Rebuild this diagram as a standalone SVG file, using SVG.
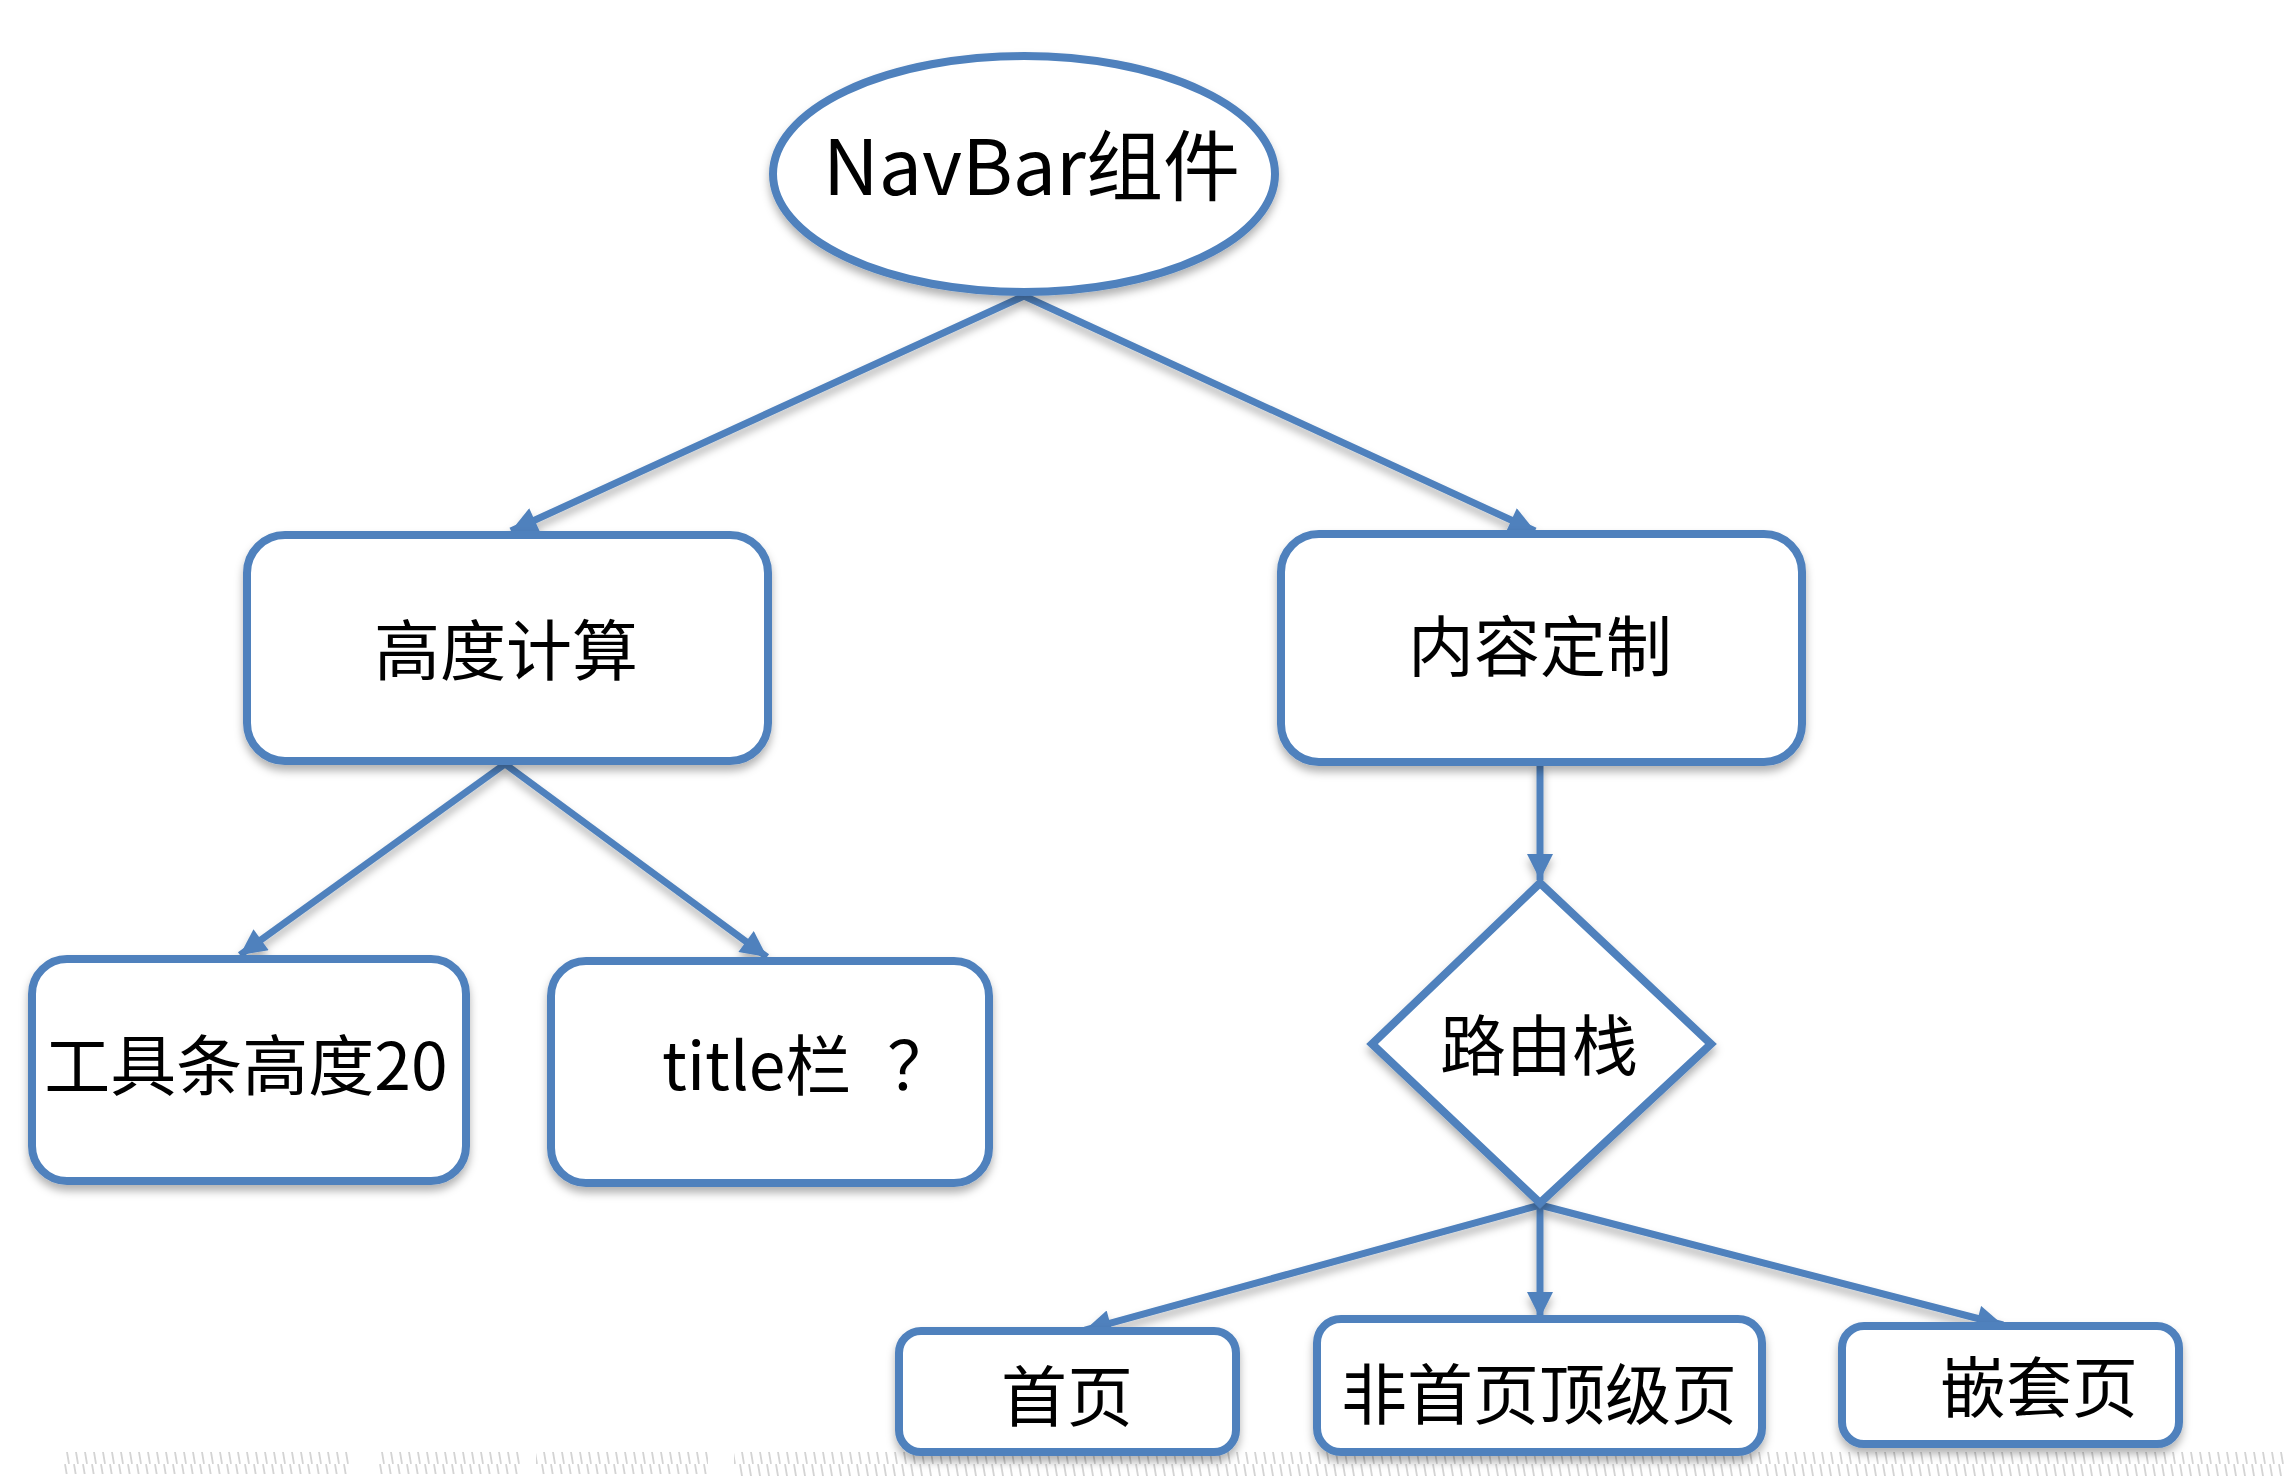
<svg xmlns="http://www.w3.org/2000/svg" width="2284" height="1476" viewBox="0 0 2284 1476">
<style>
.shape{fill:#ffffff;stroke:#4F81BD;stroke-width:8}
.conn{stroke:#4F81BD;stroke-width:7;fill:none}
.lbl{font-family:"Noto Sans CJK SC","Microsoft YaHei",sans-serif;font-size:66px;fill:#000}
</style>
<defs>
<filter id="sh" filterUnits="userSpaceOnUse" x="0" y="0" width="2284" height="1476">
<feDropShadow dx="0" dy="6" stdDeviation="4" flood-color="#000" flood-opacity="0.3"/>
</filter>
<marker id="arr" markerUnits="userSpaceOnUse" viewBox="0 0 10 10" refX="10" refY="5" markerWidth="28" markerHeight="26" orient="auto">
<path d="M0,0 L10,5 L0,10 z" fill="#4F81BD"/>
</marker>
<pattern id="hatch" patternUnits="userSpaceOnUse" width="9" height="24">
<line x1="2" y1="0" x2="6" y2="24" stroke="#d4d4d4" stroke-width="1.8"/>
</pattern>
</defs>
<rect width="2284" height="1476" fill="#ffffff"/>
<g id="background-texture">
<rect x="61" y="1452" width="291" height="22" fill="url(#hatch)"/>
<rect x="379" y="1452" width="141" height="22" fill="url(#hatch)"/>
<rect x="536" y="1452" width="172" height="22" fill="url(#hatch)"/>
<rect x="734" y="1452" width="1550" height="24" fill="url(#hatch)"/>
</g>
<g id="connectors" filter="url(#sh)">
<line class="conn" x1="1024" y1="296" x2="511" y2="531" marker-end="url(#arr)"/>
<line class="conn" x1="1024" y1="296" x2="1535" y2="531" marker-end="url(#arr)"/>
<line class="conn" x1="505" y1="764" x2="240" y2="955" marker-end="url(#arr)"/>
<line class="conn" x1="505" y1="764" x2="767" y2="957" marker-end="url(#arr)"/>
<line class="conn" x1="1540" y1="764" x2="1540" y2="880" marker-end="url(#arr)"/>
<line class="conn" x1="1540" y1="1205" x2="1085" y2="1330" marker-end="url(#arr)"/>
<line class="conn" x1="1540" y1="1205" x2="1540" y2="1318" marker-end="url(#arr)"/>
<line class="conn" x1="1540" y1="1205" x2="2003" y2="1325" marker-end="url(#arr)"/>
</g>
<g id="node-navbar">
<ellipse class="shape" filter="url(#sh)" cx="1024" cy="174" rx="251" ry="118"/>
<text class="lbl" x="823" y="195" style="font-size:77px">NavBar组件</text>
</g>
<g id="node-height">
<rect class="shape" filter="url(#sh)" x="247" y="535" width="521" height="226" rx="38"/>
<text class="lbl" x="506" y="675" text-anchor="middle">高度计算</text>
</g>
<g id="node-content">
<rect class="shape" filter="url(#sh)" x="1281" y="534" width="521" height="228" rx="38"/>
<text class="lbl" x="1540" y="671" text-anchor="middle">内容定制</text>
</g>
<g id="node-toolbar">
<rect class="shape" filter="url(#sh)" x="32" y="959" width="434" height="222" rx="35"/>
<text class="lbl" x="246" y="1090" text-anchor="middle">工具条高度20</text>
</g>
<g id="node-title">
<rect class="shape" filter="url(#sh)" x="551" y="961" width="438" height="222" rx="35"/>
<text class="lbl" x="662" y="1090">title栏<tspan dx="36">？</tspan></text>
</g>
<g id="node-route">
<polygon class="shape" filter="url(#sh)" points="1540,883 1711,1044 1540,1203 1372,1044"/>
<text class="lbl" x="1539" y="1070" text-anchor="middle">路由栈</text>
</g>
<g id="node-home">
<rect class="shape" filter="url(#sh)" x="899" y="1331" width="337" height="121" rx="22"/>
<text class="lbl" x="1067" y="1421" text-anchor="middle">首页</text>
</g>
<g id="node-nontop">
<rect class="shape" filter="url(#sh)" x="1317" y="1319" width="445" height="133" rx="24"/>
<text class="lbl" x="1539" y="1419" text-anchor="middle">非首页顶级页</text>
</g>
<g id="node-nested">
<rect class="shape" filter="url(#sh)" x="1842" y="1326" width="337" height="118" rx="22"/>
<text class="lbl" x="2039" y="1412" text-anchor="middle">嵌套页</text>
</g>
</svg>
